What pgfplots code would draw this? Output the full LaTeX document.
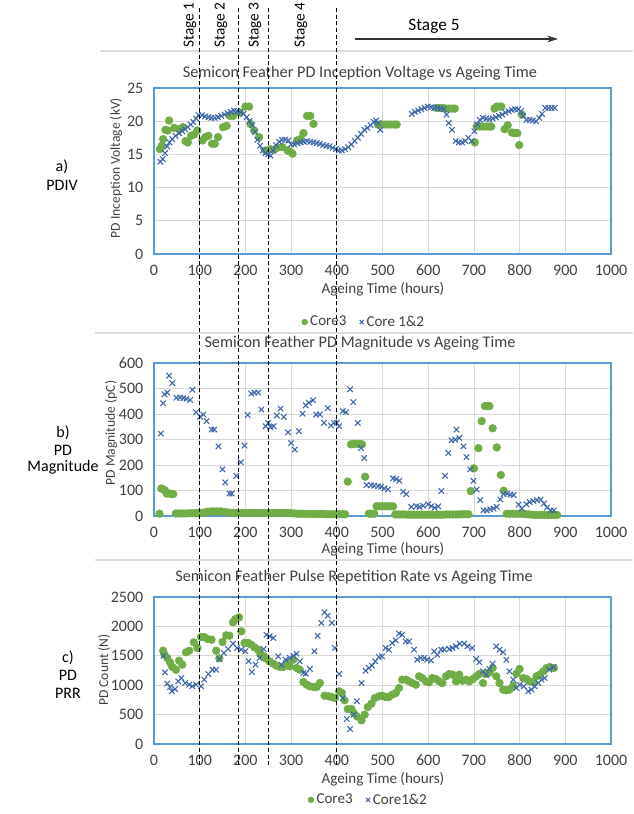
\documentclass[border=0pt]{standalone}
\usepackage{pgfplots}
\pgfplotsset{compat=1.18}
\usepackage{fontspec}
\setmainfont{Carlito}
\usetikzlibrary{arrows.meta}

\definecolor{coregreen}{RGB}{112,173,71}
\definecolor{coreblue}{RGB}{62,102,170}
\definecolor{frameblue}{RGB}{91,155,213}
\definecolor{gridgray}{RGB}{217,217,217}
\definecolor{txtgray}{RGB}{64,64,64}
\definecolor{sepgray}{RGB}{222,222,222}

\newcommand\tsize{\fontsize{11.3}{13}\selectfont}
\newcommand\ticksize{\fontsize{12}{14}\selectfont}
\newcommand\titlesize{\fontsize{12.2}{14}\selectfont}
\newcommand\ylsize{\fontsize{10.2}{12}\selectfont}

\pgfplotsset{
  panel/.style={
    scale only axis, width=342.75pt,
    xmin=0, xmax=1000, ymin=0,
    xtick={0,100,...,1000},
    grid=major, major grid style={gridgray, line width=0.6pt},
    axis line style={frameblue, line width=1.4pt},
    tick style={draw=none},
    ticklabel style={font=\ticksize, text=txtgray},
    xticklabel style={yshift=-4.5pt},
    yticklabel style={xshift=-4.5pt},
    /pgf/number format/assume math mode=true,
    /pgf/number format/1000 sep={},
    legend style={draw=none, fill=none, font=\tsize, text=txtgray,
      legend columns=2, anchor=center,
      /tikz/every even column/.append style={column sep=8pt}},
    legend image post style={scale=0.75},
  },
  c3/.style={only marks, mark=*, mark size=2.9pt,
    mark options={fill=coregreen, draw=coregreen}},
  c12/.style={only marks, mark=x, mark size=2.9pt,
    mark options={draw=coreblue, line width=0.8pt}},
}

\begin{document}
\begin{tikzpicture}
\path[use as bounding box] (0,0) rectangle (474.75pt,610.5pt);

% ---------- a) PD inception voltage ----------
\begin{axis}[panel, at={(115.5pt,420pt)}, height=124.5pt,
  ymax=25, ytick={0,5,...,25},
  legend style={at={(axis description cs:0.46,-0.41)}}]
\addplot[c3] coordinates {
(13,15.8)(17,16.3)(20,17.3)(25,18.7)(33,20.1)(30,18.6)(44,19)(55,18.8)(63,19.1)
(69,17)(74,16.8)(81,17.8)(88,18)(95,18.6)(106,17.1)(112,17.6)(119,17.8)
(127,16.6)(133,16.6)(140,17.6)(151,19.1)(159,19.3)(166,20.8)(173,20.8)
(188,21.3)(200,22.2)(208,22.2)(211,19.6)(219,18.6)(230,17.6)(244,15.6)
(255,15.8)(262,15.7)(270,16)(281,16.1)(292,15.6)(298,15.4)(303,15.1)
(313,17.1)(320,17.3)(327,18.2)(335,20.8)(342,20.8)(349,19.6)
(490,19.5)(497,19.5)(504,19.5)(511,19.5)(518,19.5)(525,19.5)(531,19.5)
(618,22)(625,22)(632,22)(639,21.9)(645,21.9)(652,21.9)(658,21.9)
(702,16.8)
(706,19.2)(713,19.2)(720,19.2)(727,19.2)(734,19.2)(738,19.2)
(745,21.9)(750,22.2)(755,22.2)(760,22.2)
(767,18.8)(774,19.4)(783,18.3)(789,18.2)(795,18.2)(799,16.4)(805,21)
};
\addlegendentry{Core3}
\addplot[c12] coordinates {
(14,13.9)(19,14.3)(24,15.2)(29,16.2)(34,16.8)(40,17.3)(47,17.8)(55,18.2)
(62,18.5)(68,18.8)(74,19.1)(80,19.5)(86,19.9)(92,20.4)(97,20.9)(105,20.9)
(112,20.7)(119,20.6)(126,20.5)(133,20.5)(140,20.6)(147,20.8)(154,21)
(161,21.2)(168,21.4)(175,21.6)(182,21.5)(189,21.4)(196,21.1)(203,20.6)
(209,20)(215,19.4)(221,18.4)(226,17.2)(232,16.3)(238,15.6)(244,15.2)
(250,15)(255,14.8)(261,15.6)(267,16.4)(274,16.9)(280,17.2)(287,17.2)
(294,17.1)(300,16.5)(307,16.5)(314,16.7)(321,16.8)(328,16.9)(335,17)
(342,16.9)(349,16.8)(356,16.7)(363,16.6)(370,16.4)(377,16.3)(384,16.2)
(391,16)(398,15.8)(404,15.6)(411,15.6)(418,15.8)(425,16.1)(432,16.5)
(439,17)(446,17.5)(453,18.1)(460,18.7)(467,19)(474,19.4)(481,19.9)
(486,20.1)(491,19.7)(495,18.7)
(564,21.1)(571,21.4)(578,21.6)(585,21.8)(592,22)(599,22.2)(606,22.1)
(613,22)(620,22)(627,21.9)(634,21.8)(640,21)(645,19.7)(652,18.7)(660,17)
(667,16.8)(674,16.8)(681,17)(688,17.5)(695,17)(701,18.5)(707,19.5)
(713,20.2)(720,20.5)(727,20.4)(734,20.3)(741,20.4)(748,20.6)(755,20.8)
(762,21)(769,21.3)(776,21.5)(783,21.7)(790,21.8)(797,21.8)(803,21.5)
(808,20.8)(815,20.2)(822,20.2)(829,20.1)(836,20)(843,20.5)(849,21.1)
(856,22)(863,22)(870,22)(877,22)
};
\addlegendentry{Core 1\&2}
\coordinate (st1) at (axis cs:100,0);
\coordinate (st2) at (axis cs:185,0);
\coordinate (st3) at (axis cs:250,0);
\coordinate (st4) at (axis cs:400,0);
\end{axis}

% ---------- b) PD magnitude ----------
\begin{axis}[panel, at={(115.5pt,223.5pt)}, height=114.75pt,
  ymax=600, ytick={0,100,...,600}]
\addplot[c3] coordinates {
(12,9)(16,108)(20,105)(24,100)(28,88)(33,88)(38,86)(42,86)
(48,10)(55,10)(62,10)(69,10)(76,11)(83,11)(90,11)(97,12)(104,12)(111,14)
(118,17)(125,18)(132,18)(139,18)(146,18)(153,16)(160,14)(167,13)(174,12)
(181,12)(188,12)(195,12)(202,12)(209,12)(216,12)(223,12)(230,12)(237,12)
(244,12)(251,12)(258,12)(265,12)(272,12)(279,12)(286,12)(293,12)(300,11)
(307,10)(314,9)(321,9)(328,8)(335,8)(342,8)(349,8)(356,8)(363,8)(370,8)
(377,7)(384,7)(391,7)(398,7)(405,7)(412,7)(418,7)
(424,135)(431,281)(437,283)(443,283)(449,283)(455,281)(462,154)
(470,9)(476,9)(482,9)
(487,38)(493,38)(499,38)(505,38)(511,38)(517,38)(523,38)
(528,6)(535,6)(542,6)(549,6)(556,5)(563,5)(570,5)(577,5)(584,5)(591,5)
(598,5)(605,5)(612,5)(619,5)(626,5)(633,5)(640,6)(647,6)(654,6)(661,6)
(668,6)(675,7)(682,7)(688,7)
(693,98)(700,187)(710,266)(717,372)(724,431)(729,431)(734,431)(741,344)
(750,269)(759,161)(765,99)
(772,9)(779,9)(786,9)(793,9)(800,9)(807,8)(814,7)(821,6)(828,5)(835,4)
(842,4)(849,4)(856,4)(863,4)(870,4)(877,4)(882,4)
};
\addplot[c12] coordinates {
(15,323)(20,442)(23,477)(29,484)(33,550)(40,521)(49,464)(57,464)(64,462)
(71,460)(79,455)(84,495)(92,407)(101,389)(108,398)(115,372)(126,339)
(132,339)(141,273)(150,183)(156,132)(165,88)(170,88)(180,157)(190,211)
(198,276)(205,396)(213,480)(220,484)(228,484)(235,418)(244,352)(250,365)
(255,349)(262,352)(269,394)(277,421)(284,389)(293,328)(300,286)(308,260)
(317,332)(325,401)(332,434)(339,444)(348,454)(355,398)(363,398)(372,365)
(380,423)(387,355)(394,365)(400,365)(405,352)(413,411)(420,407)(429,497)
(436,447)(446,365)(453,266)(460,227)(465,121)(475,121)(482,119)(490,117)
(497,115)(504,108)(512,104)(523,148)(530,145)(537,138)(545,95)(552,86)
(563,36)(574,38)(581,36)(589,40)(600,46)(607,38)(614,32)(622,38)(629,98)
(637,158)(644,247)(651,297)(659,299)(662,339)(668,306)(677,273)(684,231)
(692,183)(699,138)(706,104)(714,62)(721,22)(728,22)(736,26)(743,29)
(750,36)(758,65)(765,86)(773,88)(780,84)(787,82)(798,45)(805,29)(815,46)
(822,55)(830,59)(838,62)(846,65)(853,49)(860,33)(868,22)(875,22)
};
\end{axis}

% ---------- c) PD pulse repetition rate ----------
\begin{axis}[panel, at={(115.5pt,52.5pt)}, height=110.25pt,
  ymax=2500, ytick={0,500,...,2500},
  legend style={at={(axis description cs:0.47,-0.38)}}]
\addplot[c3] coordinates {
(20,1587)(23,1519)(29,1463)(35,1389)(40,1310)(48,1264)(55,1417)(62,1349)
(70,1559)(77,1587)(87,1729)(95,1633)(103,1820)(110,1820)(117,1786)
(126,1774)(136,1587)(143,1457)(150,1735)(158,1848)(165,1842)(173,2069)
(178,2126)(186,2154)(191,1916)(198,1718)(206,1718)(213,1689)(220,1644)
(228,1604)(233,1536)(241,1491)(246,1451)(253,1406)(261,1366)(268,1332)
(275,1310)(283,1310)(290,1378)(297,1321)(305,1434)(312,1293)(319,1264)
(327,1054)(334,1009)(341,981)(349,969)(356,969)(363,1037)(373,822)
(382,811)(389,799)(396,782)(405,896)(411,867)(417,743)(424,595)(432,595)
(437,527)(444,471)(454,402)(461,499)(468,629)(476,686)(483,782)(492,811)
(499,822)(507,799)(514,799)(521,839)(529,867)(536,952)(543,1094)
(551,1094)(558,1066)(565,1037)(573,1009)(580,1151)(587,1122)(595,1066)
(602,1049)(609,1122)(617,1105)(624,1066)(631,1037)(639,1151)(646,1190)
(653,1179)(661,1066)(668,1179)(675,1077)(683,1094)(690,1066)(698,1105)
(705,1151)(712,1190)(720,1037)(727,1190)(734,1219)(741,1293)(749,1151)
(756,1037)(764,924)(771,913)(778,924)(786,992)(793,1196)(800,1276)
(808,1122)(815,1105)(822,1066)(830,1049)(837,1151)(844,1179)(852,1236)
(859,1293)(866,1310)(875,1293)
};
\addlegendentry{Core3}
\addplot[c12] coordinates {
(21,1502)(24,1219)(29,1026)(35,969)(39,896)(46,935)(53,1066)(60,1122)
(68,1037)(77,1009)(84,981)(92,1009)(103,981)(110,1094)(119,1190)(128,1264)
(136,1264)(143,1446)(153,1548)(162,1616)(173,1706)(182,1633)(191,1604)
(200,1576)(207,1406)(214,1224)(222,1349)(231,1463)(240,1616)(246,1859)
(253,1831)(261,1803)(272,1491)(279,1349)(288,1434)(297,1463)(305,1502)
(312,1536)(319,1406)(327,1207)(332,1196)(341,1276)(351,1576)(358,1842)
(366,2058)(373,2239)(380,2183)(389,2058)(396,1633)(405,1190)(413,782)
(422,425)(429,255)(437,499)(444,726)(454,1037)(463,1247)(470,1293)
(477,1332)(484,1406)(492,1480)(499,1491)(507,1633)(514,1604)(521,1718)
(529,1763)(536,1876)(543,1859)(551,1746)(558,1746)(569,1604)(576,1434)
(584,1463)(591,1463)(598,1434)(606,1423)(613,1576)(620,1519)(628,1604)
(635,1604)(646,1616)(653,1633)(661,1661)(669,1706)(679,1706)(686,1661)
(696,1633)(705,1446)(712,1389)(720,1236)(727,1179)(734,1276)(741,1366)
(749,1661)(756,1604)(764,1559)(771,1434)(778,1236)(786,1094)(793,952)
(800,1009)(809,981)(819,896)(826,924)(833,981)(841,1037)(848,1094)
(855,1122)(865,1264)(874,1310)
};
\addlegendentry{Core1\&2}
\end{axis}

% ---------- labels, separators and stage markers ----------
\begin{scope}[x=0.75pt, y=-0.75pt, shift={(0pt,610.5pt)}]
  \draw[sepgray, line width=0.8pt] (100,51) -- (633,51);
  \draw[sepgray, line width=0.8pt] (95,333) -- (633,333);
  \draw[sepgray, line width=0.8pt] (95,560) -- (633,560);

  \begin{scope}[font=\titlesize, text=txtgray]
    \node at (360,73) {Semicon Feather PD Inception Voltage vs Ageing Time};
    \node at (360,343) {Semicon Feather PD Magnitude vs Ageing Time};
    \node at (354,577) {Semicon Feather Pulse Repetition Rate vs Ageing Time};
  \end{scope}
  \begin{scope}[font=\tsize, text=txtgray]
    \node at (383,289) {Ageing Time (hours)};
    \node at (383,549) {Ageing Time (hours)};
    \node at (383,779) {Ageing Time (hours)};
  \end{scope}
  \begin{scope}[font=\ylsize, text=txtgray]
    \node[rotate=90] at (116,168) {PD Inception Voltage (kV)};
    \node[rotate=90] at (111,433) {PD Magnitude (pC)};
    \node[rotate=90] at (104,670) {PD Count (N)};
  \end{scope}

  \begin{scope}[font=\fontsize{12}{14}\selectfont, text=black]
    \node at (62,167) {a)};
    \node at (62,185) {PDIV};
    \node at (63,433) {b)};
    \node at (63,450) {PD};
    \node at (63,467) {Magnitude};
    \node at (68,658) {c)};
    \node at (68,675) {PD};
    \node at (68,693) {PRR};
  \end{scope}

  \begin{scope}[font=\fontsize{11.5}{13}\selectfont, text=black]
    \node[rotate=90, anchor=west, inner sep=0pt] at (190,48) {Stage 1};
    \node[rotate=90, anchor=west, inner sep=0pt] at (221,48) {Stage 2};
    \node[rotate=90, anchor=west, inner sep=0pt] at (255,48) {Stage 3};
    \node[rotate=90, anchor=west, inner sep=0pt] at (301,48) {Stage 4};
  \end{scope}
  \node[font=\fontsize{13}{15}\selectfont, text=black] at (434,26) {Stage 5};
  \draw[black!80, line width=0.9pt, -{Stealth[length=8pt, width=5pt]}] (355,39) -- (558,39);

  \foreach \s in {st1,st2,st3,st4}
    \draw[black, line width=0.5pt, dash pattern=on 3pt off 2pt] (\s |- 0,8) -- (\s |- 0,766);
\end{scope}
\end{tikzpicture}
\end{document}
